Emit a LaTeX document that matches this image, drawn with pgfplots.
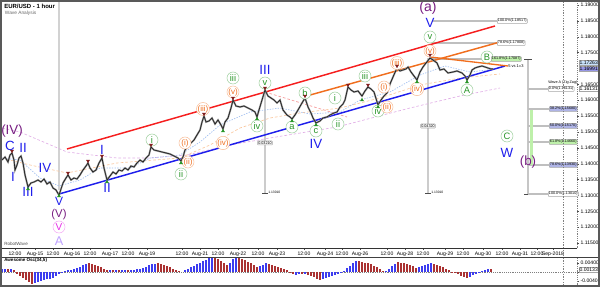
\documentclass[border=0pt]{standalone}
\usepackage{pgfplots}
\pgfplotsset{compat=1.18}
\usepackage{fontspec}
\setmainfont{Liberation Sans}
\definecolor{wblue}{RGB}{30,30,235}
\definecolor{wgreen}{RGB}{40,150,40}
\definecolor{worange}{RGB}{240,110,30}
\definecolor{wpurple}{RGB}{120,30,130}
\definecolor{wmag}{RGB}{230,40,230}
\definecolor{wlav}{RGB}{190,160,255}
\definecolor{wred}{RGB}{245,30,30}
\definecolor{wdred}{RGB}{130,30,30}
\definecolor{oblue}{RGB}{60,60,240}
\definecolor{ored}{RGB}{170,50,50}
\definecolor{fiblav}{RGB}{175,180,230}
\definecolor{fibgreen}{RGB}{190,240,170}
\definecolor{hlcyan}{RGB}{200,225,250}
\definecolor{hlblue}{RGB}{150,150,230}
\tikzset{
 bl/.style={text=wblue, font=\fontsize{10}{10}\selectfont, inner sep=0pt},
 pl/.style={text=wpurple, font=\fontsize{10}{10}\selectfont, inner sep=0pt},
 gc/.style={circle, draw=wgreen!45, fill=white, text=wgreen, font=\fontsize{7}{7}\selectfont, inner sep=0.2pt, minimum size=9pt, line width=0.4pt},
 oc/.style={circle, draw=worange!45, fill=white, text=worange, font=\fontsize{6}{6}\selectfont, inner sep=0pt, minimum size=9pt, line width=0.4pt},
 fb/.style={draw=gray!70, inner sep=0.5pt, font=\fontsize{2.8}{2.8}\selectfont, anchor=west, rounded corners=0.5pt},
 hl/.style={draw=gray!70, inner sep=0.5pt, font=\fontsize{3.8}{3.8}\selectfont, anchor=west, xshift=1.2pt},
}
\pgfplotstableread{
x p
2 1.14118
5 1.14213
8 1.14055
10 1.14276
12 1.14339
14 1.14118
15 1.13803
17 1.13961
19 1.14181
21 1.14244
23 1.14024
25 1.13646
27 1.13394
28 1.13268
31 1.13394
34 1.13425
38 1.13488
41 1.13425
44 1.13520
47 1.13362
50 1.13425
53 1.13236
56 1.13173
59 1.13010
61 1.13205
63 1.13394
66 1.13551
68 1.13646
71 1.13488
74 1.13551
77 1.13520
80 1.13646
83 1.13803
86 1.13929
88 1.14024
90 1.13866
93 1.13740
96 1.13803
99 1.14024
102 1.14181
104 1.13866
107 1.13488
110 1.13614
113 1.13740
116 1.13677
119 1.13803
122 1.13772
125 1.13866
128 1.13803
131 1.13929
134 1.13898
137 1.14024
140 1.14118
143 1.14055
146 1.14181
149 1.14276
151 1.14528
154 1.14433
158 1.14402
162 1.14370
166 1.14339
170 1.14307
174 1.14244
178 1.14181
181 1.14087
183 1.14213
185 1.14433
188 1.14559
191 1.14654
194 1.14748
197 1.14906
200 1.15063
202 1.15315
204 1.15504
206 1.15315
209 1.15347
212 1.15441
215 1.15252
218 1.15378
221 1.15221
223 1.15095
225 1.15315
228 1.15441
231 1.15756
233 1.16008
236 1.15819
240 1.15788
244 1.15819
248 1.15756
252 1.15693
255 1.15630
257 1.15473
259 1.15693
262 1.16008
265 1.16323
268 1.16134
271 1.16071
274 1.16008
277 1.15914
280 1.16008
283 1.15693
287 1.15536
290 1.15473
292 1.15410
295 1.15536
298 1.15693
302 1.15914
305 1.16071
308 1.15788
311 1.15599
313 1.15441
316 1.15284
320 1.15347
323 1.15441
327 1.15473
330 1.15536
334 1.15599
337 1.15630
340 1.15788
343 1.15882
345 1.16008
348 1.16418
351 1.16323
354 1.16260
358 1.16292
362 1.16134
365 1.16292
368 1.16418
371 1.16355
374 1.16260
378 1.15851
381 1.16008
384 1.16134
387 1.16229
390 1.16512
393 1.16733
397 1.17016
400 1.16922
403 1.16953
406 1.16985
408 1.17048
411 1.16890
414 1.16764
417 1.16638
420 1.16890
423 1.17048
426 1.17174
430 1.17330
433 1.17268
437 1.17174
440 1.16953
444 1.16985
448 1.16859
453 1.16890
457 1.16922
462 1.16859
465 1.16764
467 1.16638
470 1.16796
472 1.16953
475 1.17016
478 1.17048
482 1.17079
485 1.17048
488 1.17016
491 1.16985
493 1.16985
}\price
\begin{document}
\begin{tikzpicture}
\path[use as bounding box] (0,0) rectangle (450pt,215.25pt);
\begin{axis}[
 at={(1.5pt,29.25pt)}, anchor=south west, scale only axis,
 width=431.25pt, height=184.5pt,
 xmin=2, xmax=577, ymin=1.11346, ymax=1.19095,
 axis x line*=bottom, axis y line*=right,
 x axis line style={black!80, line width=0.6pt},
 y axis line style={densely dotted, gray},
 clip=false,
 tick align=outside, major tick length=1.5pt,
 tick style={black!70, line width=0.3pt},
 tick label style={font=\fontsize{3.8}{3.8}\selectfont, inner sep=1pt},
 /pgf/number format/assume math mode=true,
 xtick={15,35,53,72,90,110,128,147,182,200,218,238,258,277,304,325,342,360,387,405,423,445,463,483,502,520,537,553},
 xticklabels={12:00,Aug-15,12:00,Aug-16,12:00,Aug-17,12:00,Aug-19,12:00,Aug-21,12:00,Aug-22,12:00,Aug-23,12:00,Aug-24,12:00,Aug-26,12:00,Aug-28,12:00,Aug-29,12:00,Aug-30,12:00,Aug-31,12:00,Sep-2018},
 ytick={1.115,1.12,1.125,1.13,1.135,1.14,1.145,1.15,1.155,1.16,1.165,1.175,1.18,1.185,1.19},
 scaled y ticks=false,
 yticklabel style={/pgf/number format/fixed, /pgf/number format/fixed zerofill, /pgf/number format/precision=5},
]
% grey vertical measuring lines
\addplot[gray!35, line width=1.4pt] coordinates {(59,1.19095)(59,1.13173)};
\addplot[gray!40, line width=1.1pt] coordinates {(265,1.16323)(265,1.13079)};
\addplot[gray!40, line width=1.1pt] coordinates {(428,1.17331)(428,1.13079)};
\addplot[gray!45, line width=1.1pt] coordinates {(528,1.17300)(528,1.13047)};
\addplot[black!70, line width=0.5pt] coordinates {(262,1.13079)(268,1.13079)};
\addplot[black!70, line width=0.5pt] coordinates {(425,1.13079)(431,1.13079)};
\addplot[black!70, line width=0.5pt] coordinates {(524,1.13047)(532,1.13047)};
\addplot[black!70, line width=0.5pt] coordinates {(524,1.17300)(532,1.17300)};
% fib lines
\addplot[gray!50, line width=1pt] coordinates {(432,1.18497)(497,1.18497)};
\addplot[gray!50, line width=1pt] coordinates {(432,1.17804)(497,1.17804)};
\addplot[gray!50, line width=1pt] coordinates {(432,1.17300)(491,1.17300)};
\addplot[gray!50, line width=1pt] coordinates {(528,1.16355)(548,1.16355)};
\addplot[gray!50, line width=1pt] coordinates {(528,1.15725)(549,1.15725)};
\addplot[gray!50, line width=1pt] coordinates {(528,1.15189)(549,1.15189)};
\addplot[gray!50, line width=1pt] coordinates {(528,1.14685)(549,1.14685)};
\addplot[gray!50, line width=1pt] coordinates {(528,1.13961)(549,1.13961)};
\addplot[gray!50, line width=1pt] coordinates {(528,1.13047)(548,1.13047)};
\addplot[fill=fibgreen, draw=none] coordinates {(530,1.15693)(533,1.15693)(533,1.13961)(530,1.13961)} -- cycle;
% moving averages
\addplot[color={rgb,255:red,225;green,175;blue,230}, dash pattern=on 2pt off 1.5pt, line width=0.5pt] coordinates {(2,1.15126)(20,1.15000)(67,1.14370)(117,1.14181)(150,1.14181)(187,1.14276)(230,1.14591)(270,1.14811)(337,1.15158)(410,1.15756)(460,1.16134)(500,1.16386)};
\addplot[color={rgb,255:red,250;green,200;blue,160}, dash pattern=on 2pt off 1.5pt, line width=0.5pt] coordinates {(2,1.14181)(30,1.13961)(67,1.13709)(117,1.14024)(180,1.14181)(210,1.14591)(240,1.15126)(270,1.15441)(300,1.15599)(340,1.15756)(380,1.16071)(420,1.16481)(460,1.16701)(500,1.16827)};
\addplot[color={rgb,255:red,160;green,190;blue,240}, dash pattern=on 1pt off 1pt, line width=0.5pt] coordinates {(2,1.14181)(20,1.14118)(40,1.13551)(59,1.13299)(80,1.13488)(100,1.13866)(130,1.13866)(150,1.14181)(180,1.14276)(200,1.14685)(220,1.15221)(250,1.15630)(280,1.15756)(310,1.15567)(340,1.15630)(360,1.16008)(390,1.16260)(420,1.16796)(445,1.17079)(470,1.16890)(495,1.16985)};
\addplot[color={rgb,255:red,245;green,150;blue,150}, dash pattern=on 2pt off 1.5pt, line width=0.5pt] coordinates {(265,1.16260)(347,1.15473)};
% trend lines
\addplot[wred, line width=1.1pt] coordinates {(67,1.14465)(495,1.18339)};
\addplot[worange, line width=1.1pt] coordinates {(303,1.16103)(500,1.17835)};
\addplot[wblue, line width=1.1pt] coordinates {(59,1.13047)(505,1.17079)};
\addplot[worange, line width=1pt] coordinates {(430,1.17363)(508,1.17079)};
% price
\addplot[black!45, line width=1.3pt] table[x=x,y=p] {\price};
\addplot[black!90, line width=0.45pt] table[x=x,y=p] {\price};
% swing markers
\addplot[only marks, mark=triangle*, mark size=1.2pt, color=wdred, mark options={rotate=180}] coordinates {(12,1.14402)(68,1.13709)(88,1.14087)(102,1.14244)(151,1.14591)(204,1.15567)(233,1.16071)(265,1.16386)(305,1.16134)(348,1.16481)(368,1.16481)(397,1.17079)(430,1.17426)};
\addplot[only marks, mark=triangle*, mark size=1.2pt, color=wgreen] coordinates {(28,1.13205)(59,1.12984)(107,1.13425)(181,1.14024)(223,1.15032)(257,1.15410)(292,1.15347)(316,1.15221)(362,1.16008)(378,1.15788)(417,1.16575)(467,1.16575)};
% wave labels
\node[pl] at (axis cs:12,1.15032) {(IV)};
\node[bl] at (axis cs:10,1.14559) {C};
\node[bl] at (axis cs:23,1.14496) {II};
\node[bl] at (axis cs:13,1.13583) {I};
\node[bl] at (axis cs:28,1.13110) {III};
\node[bl] at (axis cs:45,1.13866) {IV};
\node[bl, font=\fontsize{9}{9}\selectfont] at (axis cs:59,1.12827) {V};
\node[pl, font=\fontsize{8.5}{8.5}\selectfont] at (axis cs:59,1.12386) {(V)};
\node[circle, draw=wmag!40, text=wmag, font=\fontsize{7.5}{7.5}\selectfont, inner sep=0.3pt, minimum size=9pt] at (axis cs:59,1.12007) {V};
\node[text=wlav, font=\fontsize{9.5}{9.5}\selectfont, inner sep=0pt] at (axis cs:59,1.11567) {A};
\node[bl] at (axis cs:102,1.14433) {I};
\node[bl] at (axis cs:107,1.13236) {II};
\node[bl] at (axis cs:265,1.16953) {III};
\node[bl] at (axis cs:316,1.14622) {IV};
\node[bl] at (axis cs:430,1.18434) {V};
\node[bl] at (axis cs:507,1.14339) {W};
\node[pl, font=\fontsize{10.5}{10.5}\selectfont] at (axis cs:428,1.18906) {(a)};
\node[pl] at (axis cs:528,1.14055) {(b)};
\node[gc] at (axis cs:152,1.14748) {i};
\node[gc] at (axis cs:181,1.13677) {ii};
\node[gc] at (axis cs:233,1.16701) {iii};
\node[gc] at (axis cs:257,1.15189) {iv};
\node[gc] at (axis cs:265,1.16544) {v};
\node[gc] at (axis cs:292,1.15158) {a};
\node[gc] at (axis cs:305,1.16229) {b};
\node[gc] at (axis cs:316,1.15032) {c};
\node[gc] at (axis cs:335,1.16071) {i};
\node[gc] at (axis cs:338,1.15252) {ii};
\node[gc] at (axis cs:365,1.16764) {iii};
\node[gc] at (axis cs:378,1.15662) {iv};
\node[gc] at (axis cs:430,1.17993) {v};
\node[gc] at (axis cs:467,1.16323) {A};
\node[gc] at (axis cs:487,1.17363) {B};
\node[gc] at (axis cs:507,1.14874) {C};
\node[oc] at (axis cs:185,1.14654) {(i)};
\node[oc] at (axis cs:188,1.14055) {(ii)};
\node[oc] at (axis cs:203,1.15725) {(iii)};
\node[oc] at (axis cs:223,1.14654) {(iv)};
\node[oc] at (axis cs:233,1.16260) {(v)};
\node[oc] at (axis cs:384,1.16418) {(i)};
\node[oc] at (axis cs:387,1.15788) {(ii)};
\node[oc] at (axis cs:397,1.17174) {(iii)};
\node[oc] at (axis cs:417,1.16355) {(iv)};
\node[oc] at (axis cs:430,1.17552) {(v)};
% fib boxes and texts
\node[fb, fill=white] at (axis cs:497,1.18497) {100.0\%(1.18517)};
\node[fb, fill=white] at (axis cs:497,1.17804) {78.6\%(1.17808)};
\node[fb, fill=fibgreen] at (axis cs:491,1.17300) {161.8\%(1.17087)};
\node[anchor=west, inner sep=0pt, font=\fontsize{3}{3}\selectfont] at (axis cs:508,1.17079) {5 vs 1=3};
\node[anchor=west, inner sep=0pt, font=\fontsize{2.8}{2.8}\selectfont] at (axis cs:548,1.16544) {Wave A (Zig Zag)};
\node[fb, fill=white] at (axis cs:548,1.16355) {0.0\%(1.16131)};
\node[fb, fill=fiblav] at (axis cs:549,1.15725) {38.2\%(1.15680)};
\node[fb, fill=fiblav] at (axis cs:549,1.15189) {50.0\%(1.15170)};
\node[fb, fill=fibgreen] at (axis cs:549,1.14685) {61.8\%(1.14660)};
\node[fb, fill=fiblav] at (axis cs:549,1.13961) {78.6\%(1.13930)};
\node[fb, fill=white] at (axis cs:548,1.13047) {100.0\%(1.13010)};
\node[fb, fill=white, anchor=center] at (axis cs:265,1.14654) {0.03210};
\node[fb, fill=white, anchor=center] at (axis cs:428,1.15189) {0.04320};
\node[anchor=west, inner sep=0pt, font=\fontsize{2.5}{2.5}\selectfont] at (axis cs:268,1.13110) {1.13010};
\node[anchor=west, inner sep=0pt, font=\fontsize{2.5}{2.5}\selectfont] at (axis cs:431,1.13110) {1.13010};
% price highlights on axis
\node[hl, fill=hlcyan] at (axis cs:577,1.17174) {1.17263};
\node[hl, fill=hlblue] at (axis cs:577,1.16985) {1.16991};
\node[hl, fill=white] at (axis cs:577,1.16355) {1.16131};
\end{axis}
\begin{axis}[
 at={(1.5pt,1.5pt)}, anchor=south west, scale only axis,
 width=431.25pt, height=21pt,
 xmin=2, xmax=577, ymin=-0.00577, ymax=0.00666,
 hide x axis, axis y line*=right,
 y axis line style={densely dotted, gray},
 clip=false,
 tick align=outside, major tick length=1.5pt,
 tick style={black!70, line width=0.3pt},
 tick label style={font=\fontsize{3.8}{3.8}\selectfont, inner sep=1pt},
 /pgf/number format/assume math mode=true,
 ytick={-0.004,0,0.004}, scaled y ticks=false,
 yticklabel style={/pgf/number format/fixed, /pgf/number format/fixed zerofill, /pgf/number format/precision=5},
]
\addplot[gray, densely dotted, line width=0.4pt] coordinates {(2,0)(577,0)};
\addplot[ycomb, color=oblue, line width=1.8pt] coordinates {(2,0.00133)(5,0.00133)(11,0.00133)(35,-0.00488)(38,-0.00444)(41,-0.00404)(44,-0.00369)(47,-0.00329)(50,-0.00293)(53,-0.00244)(56,-0.00178)(59,-0.00107)(62,-0.00027)(65,0.00036)(68,0.00089)(71,0.00107)(74,0.00129)(77,0.00173)(80,0.00226)(83,0.00289)(86,0.00355)(110,0.00089)(116,0.00089)(122,0.00089)(125,0.00089)(131,0.00089)(134,0.00089)(137,0.00129)(140,0.00151)(143,0.00195)(146,0.00244)(149,0.00293)(152,0.00337)(155,0.00373)(185,0.00067)(188,0.00133)(191,0.00209)(194,0.00284)(197,0.00355)(200,0.00422)(203,0.00488)(206,0.00551)(209,0.00608)(212,0.00666)(230,0.00422)(233,0.00559)(236,0.00639)(260,0.00275)(263,0.00329)(266,0.00382)(296,-0.00124)(299,-0.00098)(305,-0.00089)(323,-0.00315)(326,-0.00275)(329,-0.00235)(332,-0.00186)(335,-0.00133)(338,-0.00080)(341,-0.00018)(344,0.00062)(347,0.00160)(350,0.00266)(353,0.00400)(356,0.00488)(386,0.00036)(389,0.00142)(392,0.00253)(395,0.00369)(419,0.00211)(422,0.00262)(425,0.00311)(428,0.00351)(431,0.00386)(470,-0.00222)(473,-0.00155)(476,-0.00089)(479,-0.00027)(482,0.00027)(485,0.00089)(488,0.00133)};
\addplot[ycomb, color=ored, line width=1.8pt] coordinates {(8,0.00133)(14,0.00067)(17,-0.00071)(20,-0.00178)(23,-0.00271)(26,-0.00369)(29,-0.00453)(32,-0.00533)(89,0.00389)(92,0.00355)(95,0.00306)(98,0.00255)(101,0.00204)(104,0.00155)(107,0.00107)(113,0.00089)(119,0.00089)(128,0.00089)(158,0.00389)(161,0.00355)(164,0.00322)(167,0.00271)(170,0.00218)(173,0.00155)(176,0.00089)(179,0.00033)(182,0)(215,0.00622)(218,0.00577)(221,0.00488)(224,0.00400)(227,0.00333)(239,0.00633)(242,0.00582)(245,0.00533)(248,0.00457)(251,0.00382)(254,0.00302)(257,0.00222)(269,0.00364)(272,0.00311)(275,0.00262)(278,0.00211)(281,0.00164)(284,0.00129)(287,0.00089)(290,-0.00044)(293,-0.00098)(302,-0.00089)(308,-0.00115)(311,-0.00160)(314,-0.00240)(317,-0.00302)(320,-0.00355)(359,0.00477)(362,0.00444)(365,0.00422)(368,0.00400)(371,0.00342)(374,0.00284)(377,0.00213)(380,0.00133)(383,0.00053)(398,0.00435)(401,0.00413)(404,0.00386)(407,0.00351)(410,0.00311)(413,0.00253)(416,0.00195)(434,0.00369)(437,0.00324)(440,0.00253)(443,0.00218)(446,0.00155)(449,0.00089)(452,0.00022)(455,-0.00036)(458,-0.00089)(461,-0.00169)(464,-0.00231)(467,-0.00258)(491,0.00133)};
\node[hl, fill=white] at (axis cs:577,0.00089) {0.00133};
\end{axis}
% frames and separators
\draw[black!75, line width=0.6pt] (0,22.5pt) -- (450pt,22.5pt);
\draw[gray, dash pattern=on 1pt off 1pt, line width=0.35pt] (422.25pt,1pt) -- (422.25pt,214pt);
\draw[black!65, line width=1.2pt] (0.6pt,0.6pt) rectangle (449.4pt,214.65pt);
\node[anchor=north west, inner sep=0pt, font=\bfseries\fontsize{4.5}{4.5}\selectfont] at (3pt,212.5pt) {EUR/USD - 1 hour};
\node[anchor=north west, inner sep=0pt, font=\fontsize{3.6}{3.6}\selectfont, text=black!60] at (3.5pt,207pt) {Wave Analysis};
\node[anchor=west, inner sep=0pt, font=\fontsize{3.4}{3.4}\selectfont, text=black!70] at (3pt,32.2pt) {RobotWave};
\node[anchor=west, inner sep=0pt, font=\bfseries\fontsize{3.4}{3.4}\selectfont] at (3pt,20pt) {Awesome Osc(34,5)};
\end{tikzpicture}
\end{document}
